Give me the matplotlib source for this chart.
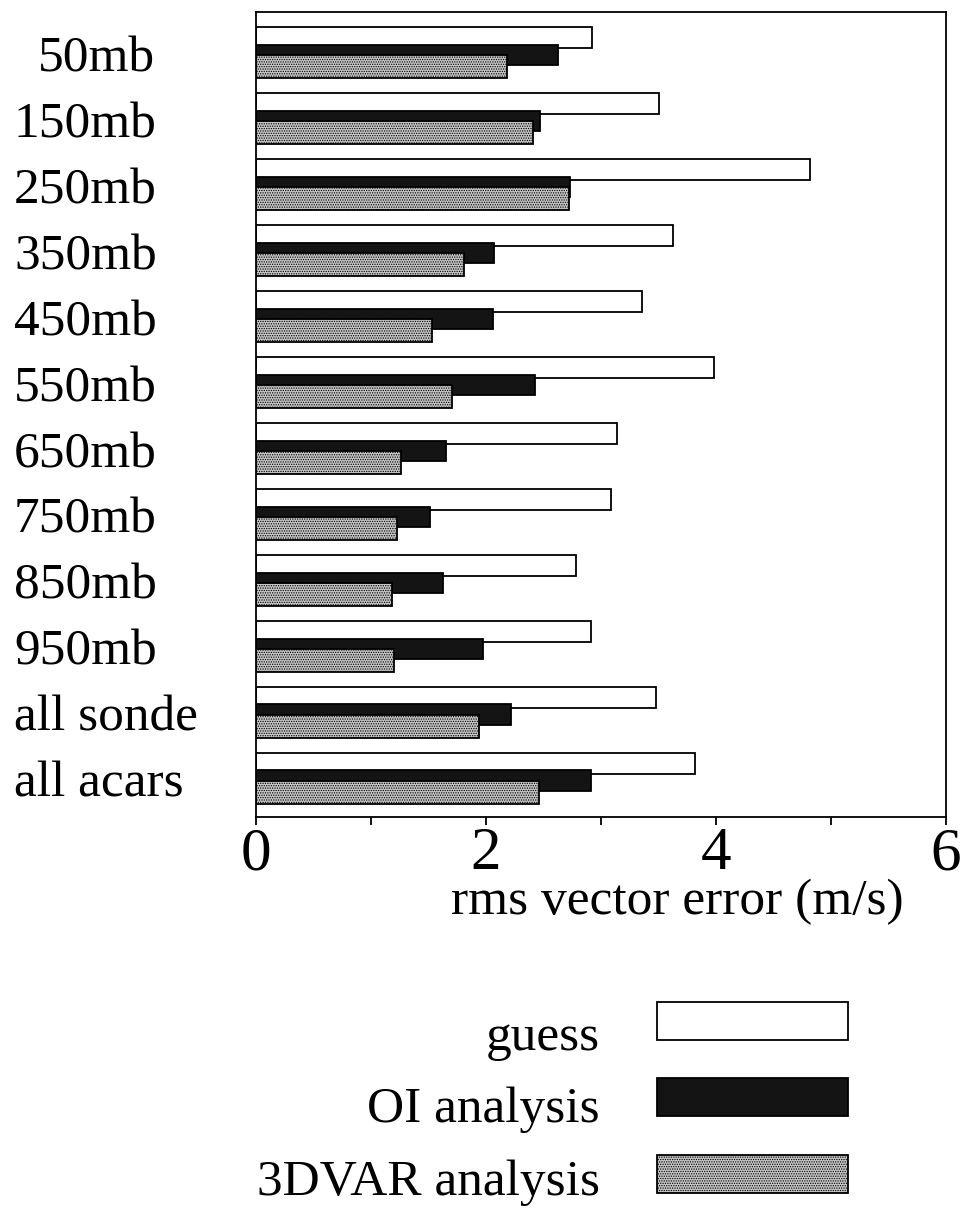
import numpy as np
import matplotlib
matplotlib.use("Agg")
import matplotlib.pyplot as plt
import matplotlib.transforms as mtransforms
from matplotlib.patches import Rectangle

plt.rcParams["font.family"] = ["Liberation Serif", "DejaVu Serif"]
plt.rcParams["hatch.linewidth"] = 0.6

levels = ["50mb", "150mb", "250mb", "350mb", "450mb", "550mb", "650mb",
          "750mb", "850mb", "950mb", "all sonde", "all acars"]
guess = [2.92, 3.50, 4.82, 3.63, 3.36, 3.98, 3.14, 3.09, 2.78, 2.91, 3.48, 3.82]
oi = [2.63, 2.47, 2.73, 2.07, 2.06, 2.43, 1.65, 1.51, 1.63, 1.97, 2.22, 2.91]
var3d = [2.18, 2.41, 2.72, 1.81, 1.53, 1.70, 1.26, 1.23, 1.18, 1.20, 1.94, 2.46]
series_names = ["guess", "OI analysis", "3DVAR analysis"]

W, H = 963, 1209
fig = plt.figure(figsize=(W / 100, H / 100), dpi=100)
ax = fig.add_axes([256 / W, 1 - 817 / H, (946 - 256) / W, (817 - 12) / H])

y = np.arange(len(levels))
styles = [
    dict(offset=-0.265, height=0.32, facecolor="white", hatch=None),
    dict(offset=0.0, height=0.31, facecolor="#141414", hatch=None),
    dict(offset=0.18, height=0.35, facecolor="#c4c4c4", hatch="......."),
]
for vals, st in zip([guess, oi, var3d], styles):
    ax.barh(y + st["offset"], vals, height=st["height"], color=st["facecolor"],
            edgecolor="black", linewidth=1.3, hatch=st["hatch"])

ax.set_xlim(0, 6)
ax.set_ylim(11.55, -0.65)
ax.set_xticks([0, 2, 4, 6])
ax.set_xticks([1, 3, 5], minor=True)
ax.tick_params(axis="x", which="both", direction="out", length=6, width=1.3,
               labelsize=44, pad=1)
ax.set_yticks([])
for s in ax.spines.values():
    s.set_linewidth(1.3)

# category labels left of the axes (left aligned, 50mb indented)
trans = mtransforms.blended_transform_factory(fig.transFigure, ax.transData)
for yi, lab in zip(y, levels):
    x0 = 38 if lab == "50mb" else 14
    ax.text(x0 / W, yi + 0.06, lab, transform=trans, ha="left", va="center",
            fontsize=37, clip_on=False)

fig.text(677 / W, 1 - 914 / H, "rms vector error (m/s)", ha="center",
         va="baseline", fontsize=37)

# legend drawn by hand
box_top = [1002, 1078, 1155]
text_base = [1050, 1122, 1195]
for i, name in enumerate(series_names):
    st = styles[i]
    r = Rectangle((657 / W, 1 - (box_top[i] + 38) / H), 191 / W, 38 / H,
                  transform=fig.transFigure, facecolor=st["facecolor"],
                  edgecolor="black", linewidth=1.3, hatch=st["hatch"])
    fig.patches.append(r)
    fig.text(600 / W, 1 - text_base[i] / H, name, ha="right", va="baseline",
             fontsize=37)

fig.savefig("out.png", dpi=100)
